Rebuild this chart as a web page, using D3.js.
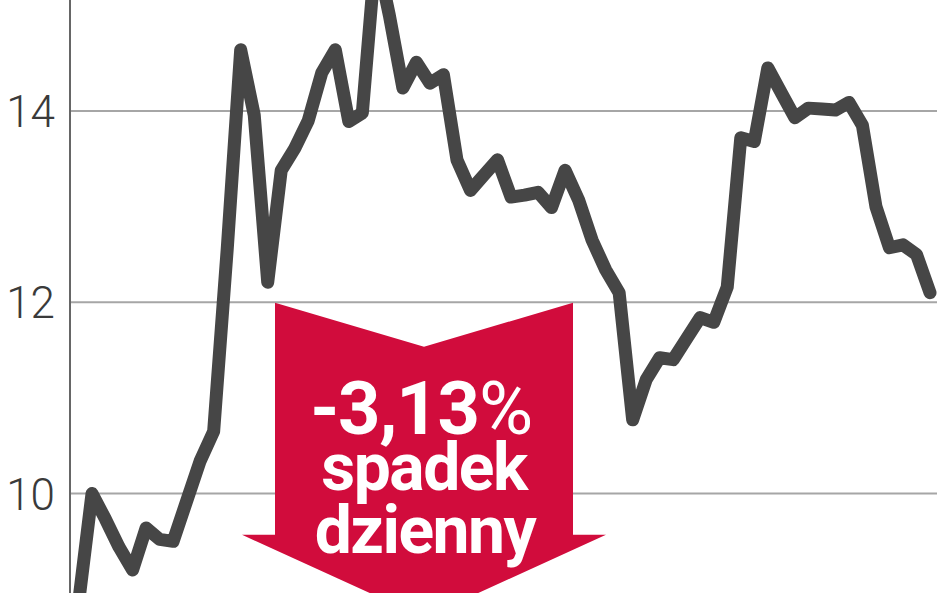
<!DOCTYPE html>
<html>
<head>
<meta charset="utf-8">
<script src="https://cdn.jsdelivr.net/npm/d3@7"></script>
<style>
  html, body { margin: 0; padding: 0; background: #fff; }
  svg { display: block; }
</style>
</head>
<body>
<svg id="chart" width="948" height="593"></svg>
<script>
// ---- data ----
const prices = [
  8.85, 10.00, 9.73, 9.44, 9.20, 9.64, 9.52, 9.50, 9.92, 10.34,
  10.65, 12.55, 14.64, 13.96, 12.21, 13.38, 13.61, 13.90, 14.40, 14.64,
  13.89, 13.98, 15.67, 15.00, 14.24, 14.51, 14.29, 14.38, 13.49, 13.17,
  13.33, 13.49, 13.10, 13.12, 13.15, 12.99, 13.38, 13.07, 12.65, 12.34,
  12.10, 10.77, 11.19, 11.42, 11.40, 11.62, 11.84, 11.79, 12.16, 13.72,
  13.68, 14.45, 14.19, 13.93, 14.03, 14.02, 14.01, 14.09, 13.85, 13.00,
  12.57, 12.60, 12.50, 12.10
];
const yTicks = [10, 12, 14];
const annotationLines = ["-3,13", "spadek", "dzienny"];
const annotationPct = "%";
const annotationLevel = 12;

// ---- layout ----
const W = 948, H = 593;
const svg = d3.select("#chart");

const x = d3.scaleLinear().domain([0, prices.length - 1]).range([78.5, 930]);
const y = d3.scaleLinear().domain([10, 14]).range([493.5, 111]);

const axisX = 70, gridEnd = 937;

// gridlines
svg.append("g").selectAll("line").data(yTicks).join("line")
  .attr("x1", axisX).attr("x2", gridEnd)
  .attr("y1", d => y(d)).attr("y2", d => y(d))
  .attr("stroke", "#a6a6a6").attr("stroke-width", 2);

// vertical axis line
svg.append("line")
  .attr("x1", axisX).attr("x2", axisX).attr("y1", 0).attr("y2", H)
  .attr("stroke", "#666").attr("stroke-width", 2);

// tick labels
svg.append("g").selectAll("text").data(yTicks).join("text")
  .attr("x", 55).attr("y", d => y(d) + 1)
  .attr("text-anchor", "end").attr("dominant-baseline", "central")
  .attr("font-family", "Roboto, 'Open Sans', sans-serif")
  .attr("font-weight", 300).attr("font-size", 44)
  .attr("fill", "#3a3a3a")
  .text(d => d);

// annotation arrow
const cx = 424, arrowTop = y(annotationLevel) + 0.5;
const stemHalf = 149, notch = 44, stemH = 232, barbHalf = 182, headH = 83;
const arrowPts = [
  [cx - stemHalf, arrowTop], [cx, arrowTop + notch], [cx + stemHalf, arrowTop],
  [cx + stemHalf, arrowTop + stemH], [cx + barbHalf, arrowTop + stemH],
  [cx, arrowTop + stemH + headH], [cx - barbHalf, arrowTop + stemH],
  [cx - stemHalf, arrowTop + stemH]
];
svg.append("path")
  .attr("d", d3.line()(arrowPts) + "Z")
  .attr("fill", "#d10c3c");

const txt = svg.append("g")
  .attr("font-family", "Roboto, 'Open Sans', sans-serif")
  .attr("font-weight", 700).attr("fill", "#fff")
  .attr("text-anchor", "middle");
const t1 = txt.append("text").attr("x", cx - 3).attr("y", arrowTop + 131)
  .attr("font-size", 74).attr("letter-spacing", -1.2);
t1.append("tspan").text(annotationLines[0]);
t1.append("tspan").attr("font-weight", 400).text(annotationPct);
txt.append("text").attr("x", cx).attr("y", arrowTop + 187)
  .attr("font-size", 66).attr("letter-spacing", -1.5).text(annotationLines[1]);
txt.append("text").attr("x", cx + 1).attr("y", arrowTop + 250)
  .attr("font-size", 66).attr("letter-spacing", -1.5).text(annotationLines[2]);

// price line
svg.append("path")
  .datum(prices)
  .attr("d", d3.line().x((d, i) => x(i)).y(d => y(d)))
  .attr("fill", "none")
  .attr("stroke", "#464646").attr("stroke-width", 13)
  .attr("stroke-linejoin", "round").attr("stroke-linecap", "round");
</script>
</body>
</html>
